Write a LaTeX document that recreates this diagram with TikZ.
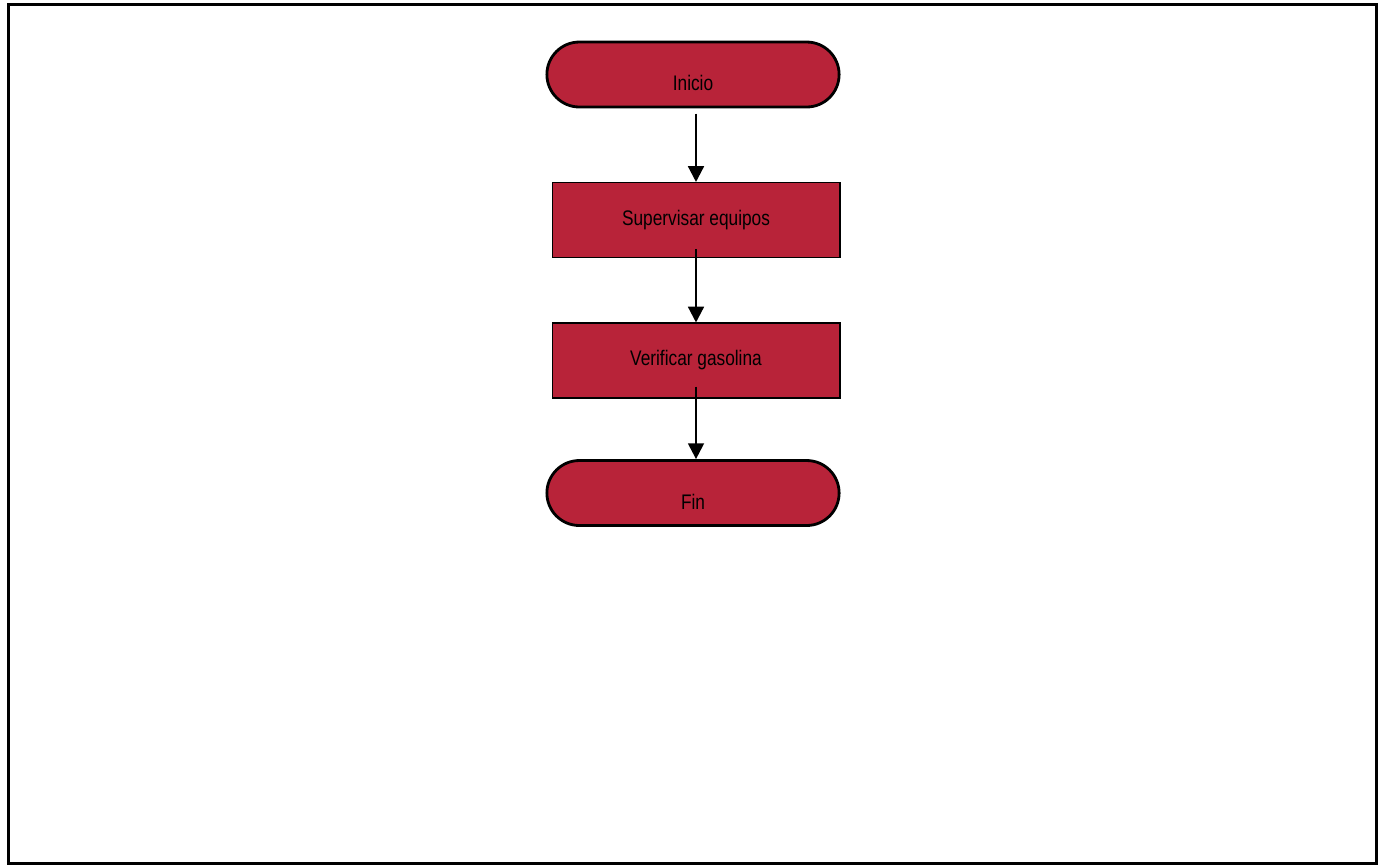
\documentclass[tikz,border=0pt]{standalone}
\usepackage{fontspec}
\setmainfont{Liberation Sans}[FakeStretch=0.82]
\usepackage{tikz}
\usetikzlibrary{arrows.meta,positioning,shapes.misc}
\definecolor{flowred}{HTML}{B82339}

\begin{document}
\begin{tikzpicture}[x=0.02cm,y=-0.02cm,
  terminal/.style={rounded rectangle,draw,line width=1.6pt,fill=flowred,
    minimum width=6.08cm,minimum height=1.3cm,text height=19pt,text depth=0.3pt},
  process/.style={rectangle,draw,line width=0.6pt,fill=flowred,
    minimum width=5.76cm,minimum height=1.5cm},
  flow/.style={-{Triangle[length=9pt,width=9pt]},line width=1.3pt},
  font=\fontsize{12pt}{14pt}\selectfont]
\useasboundingbox (0,0) rectangle (1381,867);
\draw[line width=1.7pt] (8.5,4.5) rectangle (1376.5,863.5);
\node[terminal] (start) at (693,74.5) {Inicio};
\node[process] (s1) at (696,220) {Supervisar equipos};
\node[process] (s2) at (696,360.5) {Verificar gasolina};
\node[terminal] (stop) at (693,493) {Fin};
\draw[flow,shorten <=3pt] (start.south -| s1.north) -- (s1.north);
\draw[flow,shorten <=-5pt] (s1.south) -- (s2.north);
\draw[flow,shorten <=-6.8pt] (s2.south) -- (s2.south |- stop.north);
\end{tikzpicture}
\end{document}
